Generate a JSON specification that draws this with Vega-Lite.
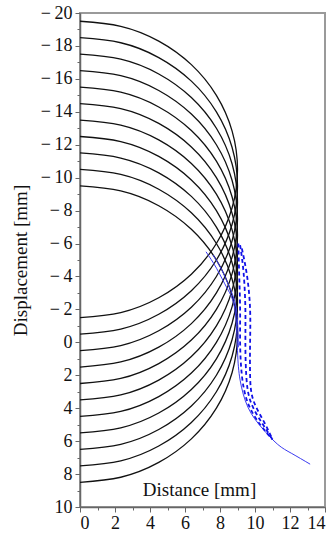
{
  "$schema": "https://vega.github.io/schema/vega-lite/v6.json",
  "width": 245,
  "height": 494,
  "autosize": {"type": "none"},
  "padding": {"left": 80, "top": 13, "right": 8, "bottom": 26},
  "background": "white",
  "config": {
    "view": {"stroke": "#9a9a9a", "strokeWidth": 2},
    "axis": {
      "grid": false,
      "domainColor": "#666",
      "domainWidth": 1.5,
      "tickColor": "#666",
      "labelFont": "Liberation Serif, Times New Roman, DejaVu Serif, serif",
      "labelFontSize": 18,
      "labelColor": "#111",
      "titleFont": "Liberation Serif, Times New Roman, DejaVu Serif, serif",
      "titleFontSize": 19,
      "titleFontWeight": "normal",
      "titleColor": "#111"
    }
  },
  "datasets": {
    "arcs": [
      {"a":0,"i":0,"x":0,"y":-19.5},{"a":0,"i":1,"x":2.329,"y":-19.193},{"a":0,"i":2,"x":4.5,"y":-18.294},{"a":0,"i":3,"x":6.364,"y":-16.864},{"a":0,"i":4,"x":7.794,"y":-15},{"a":0,"i":5,"x":8.693,"y":-12.829},{"a":0,"i":6,"x":9,"y":-10.5},{"a":0,"i":7,"x":8.693,"y":-8.171},{"a":0,"i":8,"x":7.794,"y":-6},{"a":0,"i":9,"x":6.364,"y":-4.136},{"a":0,"i":10,"x":4.5,"y":-2.706},{"a":0,"i":11,"x":2.329,"y":-1.807},{"a":0,"i":12,"x":0,"y":-1.5},
      {"a":1,"i":0,"x":0,"y":-18.5},{"a":1,"i":1,"x":2.329,"y":-18.193},{"a":1,"i":2,"x":4.5,"y":-17.294},{"a":1,"i":3,"x":6.364,"y":-15.864},{"a":1,"i":4,"x":7.794,"y":-14},{"a":1,"i":5,"x":8.693,"y":-11.829},{"a":1,"i":6,"x":9,"y":-9.5},{"a":1,"i":7,"x":8.693,"y":-7.171},{"a":1,"i":8,"x":7.794,"y":-5},{"a":1,"i":9,"x":6.364,"y":-3.136},{"a":1,"i":10,"x":4.5,"y":-1.706},{"a":1,"i":11,"x":2.329,"y":-0.807},{"a":1,"i":12,"x":0,"y":-0.5},
      {"a":2,"i":0,"x":0,"y":-17.5},{"a":2,"i":1,"x":2.329,"y":-17.193},{"a":2,"i":2,"x":4.5,"y":-16.294},{"a":2,"i":3,"x":6.364,"y":-14.864},{"a":2,"i":4,"x":7.794,"y":-13},{"a":2,"i":5,"x":8.693,"y":-10.829},{"a":2,"i":6,"x":9,"y":-8.5},{"a":2,"i":7,"x":8.693,"y":-6.171},{"a":2,"i":8,"x":7.794,"y":-4},{"a":2,"i":9,"x":6.364,"y":-2.136},{"a":2,"i":10,"x":4.5,"y":-0.706},{"a":2,"i":11,"x":2.329,"y":0.193},{"a":2,"i":12,"x":0,"y":0.5},
      {"a":3,"i":0,"x":0,"y":-16.5},{"a":3,"i":1,"x":2.329,"y":-16.193},{"a":3,"i":2,"x":4.5,"y":-15.294},{"a":3,"i":3,"x":6.364,"y":-13.864},{"a":3,"i":4,"x":7.794,"y":-12},{"a":3,"i":5,"x":8.693,"y":-9.829},{"a":3,"i":6,"x":9,"y":-7.5},{"a":3,"i":7,"x":8.693,"y":-5.171},{"a":3,"i":8,"x":7.794,"y":-3},{"a":3,"i":9,"x":6.364,"y":-1.136},{"a":3,"i":10,"x":4.5,"y":0.294},{"a":3,"i":11,"x":2.329,"y":1.193},{"a":3,"i":12,"x":0,"y":1.5},
      {"a":4,"i":0,"x":0,"y":-15.5},{"a":4,"i":1,"x":2.329,"y":-15.193},{"a":4,"i":2,"x":4.5,"y":-14.294},{"a":4,"i":3,"x":6.364,"y":-12.864},{"a":4,"i":4,"x":7.794,"y":-11},{"a":4,"i":5,"x":8.693,"y":-8.829},{"a":4,"i":6,"x":9,"y":-6.5},{"a":4,"i":7,"x":8.693,"y":-4.171},{"a":4,"i":8,"x":7.794,"y":-2},{"a":4,"i":9,"x":6.364,"y":-0.136},{"a":4,"i":10,"x":4.5,"y":1.294},{"a":4,"i":11,"x":2.329,"y":2.193},{"a":4,"i":12,"x":0,"y":2.5},
      {"a":5,"i":0,"x":0,"y":-14.5},{"a":5,"i":1,"x":2.329,"y":-14.193},{"a":5,"i":2,"x":4.5,"y":-13.294},{"a":5,"i":3,"x":6.364,"y":-11.864},{"a":5,"i":4,"x":7.794,"y":-10},{"a":5,"i":5,"x":8.693,"y":-7.829},{"a":5,"i":6,"x":9,"y":-5.5},{"a":5,"i":7,"x":8.693,"y":-3.171},{"a":5,"i":8,"x":7.794,"y":-1},{"a":5,"i":9,"x":6.364,"y":0.864},{"a":5,"i":10,"x":4.5,"y":2.294},{"a":5,"i":11,"x":2.329,"y":3.193},{"a":5,"i":12,"x":0,"y":3.5},
      {"a":6,"i":0,"x":0,"y":-13.5},{"a":6,"i":1,"x":2.329,"y":-13.193},{"a":6,"i":2,"x":4.5,"y":-12.294},{"a":6,"i":3,"x":6.364,"y":-10.864},{"a":6,"i":4,"x":7.794,"y":-9},{"a":6,"i":5,"x":8.693,"y":-6.829},{"a":6,"i":6,"x":9,"y":-4.5},{"a":6,"i":7,"x":8.693,"y":-2.171},{"a":6,"i":8,"x":7.794,"y":0},{"a":6,"i":9,"x":6.364,"y":1.864},{"a":6,"i":10,"x":4.5,"y":3.294},{"a":6,"i":11,"x":2.329,"y":4.193},{"a":6,"i":12,"x":0,"y":4.5},
      {"a":7,"i":0,"x":0,"y":-12.5},{"a":7,"i":1,"x":2.329,"y":-12.193},{"a":7,"i":2,"x":4.5,"y":-11.294},{"a":7,"i":3,"x":6.364,"y":-9.864},{"a":7,"i":4,"x":7.794,"y":-8},{"a":7,"i":5,"x":8.693,"y":-5.829},{"a":7,"i":6,"x":9,"y":-3.5},{"a":7,"i":7,"x":8.693,"y":-1.171},{"a":7,"i":8,"x":7.794,"y":1},{"a":7,"i":9,"x":6.364,"y":2.864},{"a":7,"i":10,"x":4.5,"y":4.294},{"a":7,"i":11,"x":2.329,"y":5.193},{"a":7,"i":12,"x":0,"y":5.5},
      {"a":8,"i":0,"x":0,"y":-11.5},{"a":8,"i":1,"x":2.329,"y":-11.193},{"a":8,"i":2,"x":4.5,"y":-10.294},{"a":8,"i":3,"x":6.364,"y":-8.864},{"a":8,"i":4,"x":7.794,"y":-7},{"a":8,"i":5,"x":8.693,"y":-4.829},{"a":8,"i":6,"x":9,"y":-2.5},{"a":8,"i":7,"x":8.693,"y":-0.171},{"a":8,"i":8,"x":7.794,"y":2},{"a":8,"i":9,"x":6.364,"y":3.864},{"a":8,"i":10,"x":4.5,"y":5.294},{"a":8,"i":11,"x":2.329,"y":6.193},{"a":8,"i":12,"x":0,"y":6.5},
      {"a":9,"i":0,"x":0,"y":-10.5},{"a":9,"i":1,"x":2.329,"y":-10.193},{"a":9,"i":2,"x":4.5,"y":-9.294},{"a":9,"i":3,"x":6.364,"y":-7.864},{"a":9,"i":4,"x":7.794,"y":-6},{"a":9,"i":5,"x":8.693,"y":-3.829},{"a":9,"i":6,"x":9,"y":-1.5},{"a":9,"i":7,"x":8.693,"y":0.829},{"a":9,"i":8,"x":7.794,"y":3},{"a":9,"i":9,"x":6.364,"y":4.864},{"a":9,"i":10,"x":4.5,"y":6.294},{"a":9,"i":11,"x":2.329,"y":7.193},{"a":9,"i":12,"x":0,"y":7.5},
      {"a":10,"i":0,"x":0,"y":-9.5},{"a":10,"i":1,"x":2.329,"y":-9.193},{"a":10,"i":2,"x":4.5,"y":-8.294},{"a":10,"i":3,"x":6.364,"y":-6.864},{"a":10,"i":4,"x":7.794,"y":-5},{"a":10,"i":5,"x":8.693,"y":-2.829},{"a":10,"i":6,"x":9,"y":-0.5},{"a":10,"i":7,"x":8.693,"y":1.829},{"a":10,"i":8,"x":7.794,"y":4},{"a":10,"i":9,"x":6.364,"y":5.864},{"a":10,"i":10,"x":4.5,"y":7.294},{"a":10,"i":11,"x":2.329,"y":8.193},{"a":10,"i":12,"x":0,"y":8.5}
    ],
    "blueSolid": [
      {"s":"b0","i":0,"x":7.2,"y":-5.5},{"s":"b0","i":1,"x":7.8,"y":-4.5},{"s":"b0","i":2,"x":8.4,"y":-3.3},{"s":"b0","i":3,"x":8.85,"y":-2.0},{"s":"b0","i":4,"x":9.0,"y":0.5},{"s":"b0","i":5,"x":9.15,"y":2.3},{"s":"b0","i":6,"x":9.6,"y":3.95},{"s":"b0","i":7,"x":10.4,"y":5.2},{"s":"b0","i":8,"x":11.3,"y":6.2},{"s":"b0","i":9,"x":12.1,"y":6.75},{"s":"b0","i":10,"x":13.15,"y":7.4},
      {"s":"b1","i":0,"x":7.6,"y":-5.3},{"s":"b1","i":1,"x":8.1,"y":-4.4},{"s":"b1","i":2,"x":8.6,"y":-3.2},{"s":"b1","i":3,"x":8.95,"y":-1.9},{"s":"b1","i":4,"x":9.05,"y":0.3}
    ],
    "blueDash": [
      {"s":"d1","i":0,"x":9.05,"y":-6.0},{"s":"d1","i":1,"x":9.1,"y":-4},{"s":"d1","i":2,"x":9.15,"y":-2},{"s":"d1","i":3,"x":9.15,"y":0},{"s":"d1","i":4,"x":9.25,"y":2},{"s":"d1","i":5,"x":9.6,"y":3.7},{"s":"d1","i":6,"x":10.3,"y":5.0},{"s":"d1","i":7,"x":11.0,"y":5.9},
      {"s":"d2","i":0,"x":9.15,"y":-5.9},{"s":"d2","i":1,"x":9.35,"y":-4.2},{"s":"d2","i":2,"x":9.45,"y":-2},{"s":"d2","i":3,"x":9.45,"y":0},{"s":"d2","i":4,"x":9.5,"y":2},{"s":"d2","i":5,"x":9.75,"y":3.6},{"s":"d2","i":6,"x":10.4,"y":4.9},{"s":"d2","i":7,"x":11.0,"y":5.9},
      {"s":"d3","i":0,"x":9.25,"y":-5.7},{"s":"d3","i":1,"x":9.55,"y":-4},{"s":"d3","i":2,"x":9.72,"y":-2},{"s":"d3","i":3,"x":9.72,"y":0},{"s":"d3","i":4,"x":9.72,"y":2},{"s":"d3","i":5,"x":9.9,"y":3.5},{"s":"d3","i":6,"x":10.5,"y":4.8},{"s":"d3","i":7,"x":11.0,"y":5.9}
    ]
  },
  "layer": [
    {
      "data": {"name": "arcs"},
      "mark": {"type": "line", "interpolate": "natural", "color": "#111", "strokeWidth": 1.3},
      "encoding": {
        "x": {"field": "x", "type": "quantitative", "scale": {"domain": [0, 14], "nice": false, "zero": false},
              "axis": {"orient": "bottom", "values": [0,2,4,6,8,10,12,14], "tickSize": 5, "labelPadding": 2, "title": "Distance [mm]", "titleX": 119, "titleY": -18, "titleBaseline": "middle", "titleAlign": "center"}},
        "y": {"field": "y", "type": "quantitative", "scale": {"domain": [-20, 10], "reverse": true, "nice": false, "zero": false},
              "axis": {"orient": "left", "values": [-20,-18,-16,-14,-12,-10,-8,-6,-4,-2,0,2,4,6,8,10], "tickSize": 5, "labelPadding": 3, "labelExpr": "datum.value < 0 ? '\u2212\u2009' + format(-datum.value, 'd') : format(datum.value, 'd')", "title": "Displacement [mm]", "titleX": -60, "titleBaseline": "middle"}},
        "detail": {"field": "a", "type": "nominal"},
        "order": {"field": "i", "type": "quantitative"}
      }
    },
    {
      "data": {"name": "blueSolid"},
      "mark": {"type": "line", "interpolate": "natural", "color": "#3a3af0", "strokeWidth": 1},
      "encoding": {
        "x": {"field": "x", "type": "quantitative", "scale": {"domain": [0, 14], "nice": false, "zero": false},
              "axis": {"orient": "bottom", "values": [1,3,5,7,9,11,13], "tickSize": 3, "labels": false, "domain": false, "title": null}},
        "y": {"field": "y", "type": "quantitative", "scale": {"domain": [-20, 10], "reverse": true, "nice": false, "zero": false},
              "axis": {"orient": "left", "values": [-19,-17,-15,-13,-11,-9,-7,-5,-3,-1,1,3,5,7,9], "tickSize": 3, "labels": false, "domain": false, "title": null}},
        "detail": {"field": "s", "type": "nominal"},
        "order": {"field": "i", "type": "quantitative"}
      }
    },
    {
      "data": {"name": "blueDash"},
      "mark": {"type": "line", "interpolate": "natural", "color": "#1010e8", "strokeWidth": 1.8, "strokeDash": [4, 3]},
      "encoding": {
        "x": {"field": "x", "type": "quantitative", "scale": {"domain": [0, 14], "nice": false, "zero": false}, "axis": null},
        "y": {"field": "y", "type": "quantitative", "scale": {"domain": [-20, 10], "reverse": true, "nice": false, "zero": false}, "axis": null},
        "detail": {"field": "s", "type": "nominal"},
        "order": {"field": "i", "type": "quantitative"}
      }
    }
  ],
  "resolve": {"axis": {"x": "independent", "y": "independent"}}
}
